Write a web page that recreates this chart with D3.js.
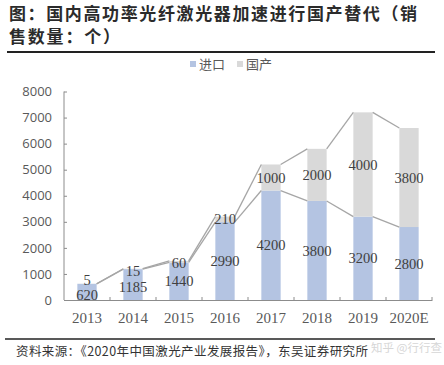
<!DOCTYPE html>
<html><head><meta charset="utf-8">
<script src="https://cdn.jsdelivr.net/npm/d3@7"></script>
<style>body{margin:0;background:#fff}svg{display:block}</style>
</head><body>
<script>
const categories = ["2013","2014","2015","2016","2017","2018","2019","2020E"];
const importVals = [620,1185,1440,2990,4200,3800,3200,2800];
const domesticVals = [5,15,60,210,1000,2000,4000,3800];
const yTicks = [0,1000,2000,3000,4000,5000,6000,7000,8000];
const seriesNames = ["进口","国产"];
const colors = ["#b4c4e2","#d9d9d9"];

const W=444,H=365;
const svg=d3.select("body").append("svg").attr("width",W).attr("height",H);

const x=d3.scaleBand().domain(categories).range([64,432]).paddingInner(0.58).paddingOuter(0.29);
const xb=d3.scaleBand().domain(categories).range([64,432]);
const y=d3.scaleLinear().domain([0,8000]).range([300,91.5]);

// title
const title=svg.append("g").attr("font-family","'Noto Sans CJK SC'").attr("font-weight","bold").attr("font-size",17).attr("fill","#2b2b2b");
title.append("text").attr("x",9).attr("y",20).attr("textLength",408).text("图：国内高功率光纤激光器加速进行国产替代（销");
title.append("text").attr("x",9).attr("y",43).attr("textLength",111).text("售数量：个）");
svg.append("line").attr("x1",7).attr("x2",435).attr("y1",52).attr("y2",52).attr("stroke","#222").attr("stroke-width",2);

// legend
const lg=svg.append("g").attr("font-family","'Noto Sans CJK SC'").attr("font-size",13).attr("fill","#595959");
[[190,0],[237,1]].forEach(([lx,i])=>{
  lg.append("rect").attr("x",lx).attr("y",61).attr("width",6).attr("height",6).attr("fill",colors[i]);
  lg.append("text").attr("x",lx+9).attr("y",69).text(seriesNames[i]);
});

// stacked data
const data=categories.map((c,i)=>({c,imp:importVals[i],dom:domesticVals[i]}));
const stack=d3.stack().keys(["imp","dom"])(data);

stack.forEach((s,si)=>{
  svg.append("g").selectAll("rect").data(s).join("rect")
   .attr("x",d=>x(d.data.c)).attr("width",x.bandwidth())
   .attr("y",d=>y(d[1])).attr("height",d=>y(d[0])-y(d[1]))
   .attr("fill",colors[si]);
});

// series lines (Excel-like connectors)
stack.forEach(s=>{
  for(let i=0;i<s.length-1;i++){
    svg.append("line")
     .attr("x1",x(s[i].data.c)+x.bandwidth()).attr("y1",y(s[i][1]))
     .attr("x2",x(s[i+1].data.c)).attr("y2",y(s[i+1][1]))
     .attr("stroke","#a6a6a6").attr("stroke-width",1.3);
  }
});

// axes
const ya=svg.append("g").attr("transform","translate(64,0)")
 .call(d3.axisLeft(y).tickValues(yTicks).tickSize(-3).tickPadding(12).tickFormat(d3.format("d")));
ya.select(".domain").attr("stroke","#8c8c8c").attr("d","M0,"+y(8000)+"V300");
ya.selectAll(".tick line").attr("stroke","#8c8c8c");
ya.selectAll("text").attr("font-family","'Open Sans'").attr("font-size",13).attr("fill","#595959");

const xa=svg.append("g").attr("transform","translate(0,300)")
 .call(d3.axisBottom(xb).tickSize(0).tickPadding(12));
xa.select(".domain").attr("stroke","#8c8c8c");
xa.selectAll("text").attr("font-family","'Liberation Serif'").attr("font-size",15).attr("fill","#595959");
svg.append("g").selectAll("line").data(categories).join("line")
 .attr("x1",d=>xb(d)+xb.bandwidth()).attr("x2",d=>xb(d)+xb.bandwidth())
 .attr("y1",297).attr("y2",300).attr("stroke","#8c8c8c");

// data labels
const lbl=svg.append("g").attr("font-family","'Liberation Serif'").attr("font-size",14.5).attr("fill","#404040").attr("text-anchor","middle");
stack.forEach((s,si)=>{
  lbl.selectAll(null).data(s).join("text")
   .attr("x",d=>x(d.data.c)+x.bandwidth()/2)
   .attr("y",d=>{let m=(y(d[0])+y(d[1]))/2; if(si===1&&d[1]-d[0]<100) m=y(d[1])+ (d.data.c==="2013"?-3.5:2); if(si===0&&d.data.c==="2013") m=295; if(si===0&&d.data.c==="2014") m=287; return m;})
   .attr("dy","0.35em").text(d=>si===0?d.data.imp:d.data.dom);
});

// footer
svg.append("line").attr("x1",5).attr("x2",435).attr("y1",339).attr("y2",339).attr("stroke","#222").attr("stroke-width",1.5);
svg.append("text").attr("x",16).attr("y",356).attr("font-family","'Noto Sans CJK SC'").attr("font-size",12.5).attr("fill","#333")
 .attr("textLength",352).text("资料来源：《2020年中国激光产业发展报告》，东吴证券研究所");
svg.append("text").attr("x",371).attr("y",352).attr("font-family","'Noto Sans CJK SC'").attr("font-size",11.5).attr("fill","#d6d6d6")
 .text("知乎 @行行查");
</script>
</body></html>
